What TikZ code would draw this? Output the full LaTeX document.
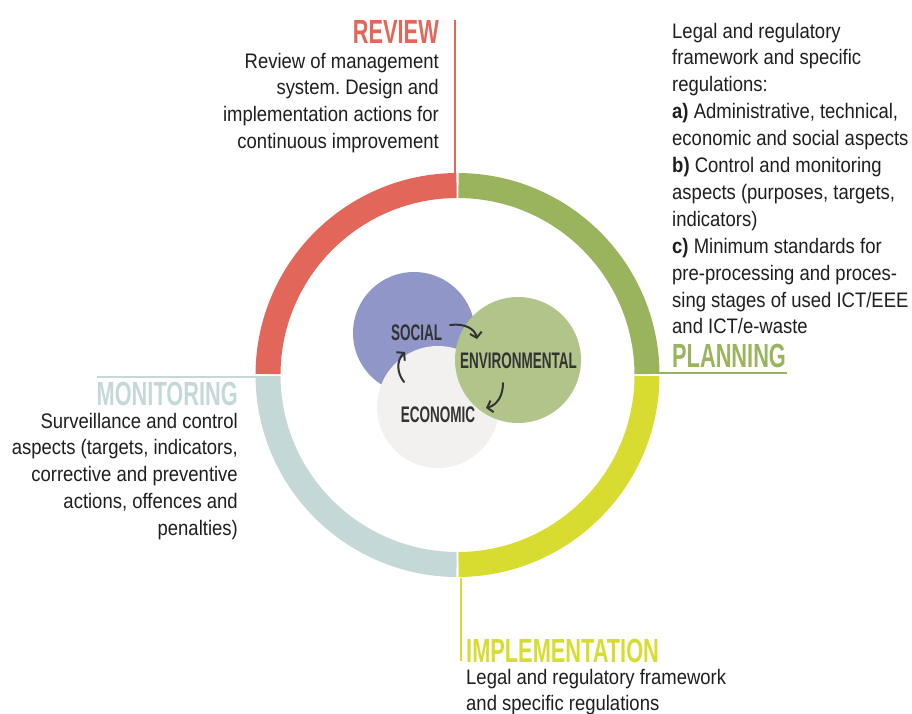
\documentclass[tikz,border=0pt]{standalone}
\usepackage{fontspec}
\setmainfont{Liberation Sans}[FakeStretch=0.88]
\newfontfamily\headfont{Liberation Sans}[FakeStretch=0.65]
\newfontfamily\circfont{Liberation Sans}[FakeStretch=0.60]
\usetikzlibrary{arrows.meta,calc}
\definecolor{revred}{HTML}{E2675A}
\definecolor{plangreen}{HTML}{9AB45E}
\definecolor{implyellow}{HTML}{D9DC30}
\definecolor{monigrey}{HTML}{C5D8D8}
\definecolor{socialc}{HTML}{9096C8}
\definecolor{envc}{HTML}{B1C48A}
\definecolor{econc}{HTML}{F2F1F0}
\definecolor{txt}{HTML}{1E1E1E}
\definecolor{dark}{HTML}{333333}
\frenchspacing
\begin{document}
\begin{tikzpicture}[x=1pt,y=-1pt,
  body/.style={inner sep=0pt, font=\fontsize{21}{26.9}\selectfont, text=txt},
  head/.style={inner sep=0pt, font=\headfont\bfseries\fontsize{33.5}{33.5}\selectfont},
  circlabel/.style={inner sep=0pt, font=\circfont\bfseries\fontsize{22.5}{22.5}\selectfont, text=dark},
  link/.style={line width=2pt},
  blob/.style={circle, inner sep=0pt, draw=none},
  cyc/.style={draw=dark, line width=2pt, line cap=round, -{Straight Barb[length=5pt,width=12pt]}}
]
\useasboundingbox (0,0) rectangle (912,713);
\def\myRo{202}
\def\myRi{177}
\coordinate (c) at (457.5,375);
% ring sectors
\fill[revred] ($(c)+(180.3:\myRo)$) arc[start angle=180.3, end angle=269.7, radius=\myRo] -- ($(c)+(269.7:\myRi)$) arc[start angle=269.7, end angle=180.3, radius=\myRi] -- cycle;
\fill[plangreen] ($(c)+(270.3:\myRo)$) arc[start angle=270.3, end angle=359.7, radius=\myRo] -- ($(c)+(359.7:\myRi)$) arc[start angle=359.7, end angle=270.3, radius=\myRi] -- cycle;
\fill[implyellow] ($(c)+(0.3:\myRo)$) arc[start angle=0.3, end angle=89.7, radius=\myRo] -- ($(c)+(89.7:\myRi)$) arc[start angle=89.7, end angle=0.3, radius=\myRi] -- cycle;
\fill[monigrey] ($(c)+(90.3:\myRo)$) arc[start angle=90.3, end angle=179.7, radius=\myRo] -- ($(c)+(179.7:\myRi)$) arc[start angle=179.7, end angle=90.3, radius=\myRi] -- cycle;
% leader lines
\coordinate (revTop) at (455,20);
\coordinate (revBot) at (455,173);
\coordinate (planA) at (640,373);
\coordinate (planB) at (787,373);
\coordinate (monA) at (97,377);
\coordinate (monB) at (268,377);
\coordinate (impA) at (460.5,578);
\coordinate (impB) at (460.5,661);
\draw[link, draw=revred] (revTop) -- (revBot);
\draw[link, draw=plangreen] (planA) -- (planB);
\draw[link, draw=monigrey] (monA) -- (monB);
\draw[link, draw=implyellow] (impA) -- (impB);
% headings
\node[head, text=revred, anchor=base east] (review) at (439,43) {REVIEW};
\node[head, text=plangreen, anchor=base west] (planning) at (672,367) {PLANNING};
\node[head, text=monigrey, anchor=base east] (monitoring) at (238,405) {MONITORING};
\node[head, text=implyellow, anchor=base west] (implementation) at (466,662) {IMPLEMENTATION};
% body texts
\node[body, anchor=base east] (revtxt) at (439,68) {\begin{tabular}[t]{@{}r@{}}Review of management\\ system. Design and\\ implementation actions for\\ continuous improvement\end{tabular}};
\node[body, anchor=base west] (plantxt) at (672,38) {\begin{tabular}[t]{@{}l@{}}Legal and regulatory\\ framework and specific\\ regulations:\\ \textbf{a)} Administrative, technical,\\ economic and social aspects\\ \textbf{b)} Control and monitoring\\ aspects (purposes, targets,\\ indicators)\\ \textbf{c)} Minimum standards for\\ pre-processing and proces-\\ sing stages of used ICT/EEE\\ and ICT/e-waste\end{tabular}};
\node[body, anchor=base east] (montxt) at (238,428) {\begin{tabular}[t]{@{}r@{}}Surveillance and control\\ aspects (targets, indicators,\\ corrective and preventive\\ actions, offences and\\ penalties)\end{tabular}};
\node[body, anchor=base west] (imptxt) at (466,684) {\begin{tabular}[t]{@{}l@{}}Legal and regulatory framework\\ and specific regulations\end{tabular}};
% circles
\node[blob, fill=socialc, minimum size=122pt] (soc) at (414,333) {};
\node[blob, fill=econc, minimum size=122pt] (eco) at (438,407) {};
\node[blob, fill=envc, minimum size=126pt] (env) at (518,360) {};
\node[circlabel] (socl) at (416.5,332.5) {SOCIAL};
\node[circlabel] (envl) at (518.5,361) {ENVIRONMENTAL};
\node[circlabel] (ecol) at (438,415) {ECONOMIC};
% cycle arrows
\coordinate (a1s) at (450,325);
\coordinate (a1e) at (477,339);
\coordinate (a2s) at (503,383);
\coordinate (a2e) at (486,408);
\coordinate (a3s) at (404,382);
\coordinate (a3e) at (405,352);
\draw[cyc] (a1s) .. controls (465,323) and (475,329) .. (a1e);
\draw[cyc] (a2s) .. controls (503,396) and (497,405) .. (a2e);
\draw[cyc] (a3s) .. controls (397,373) and (396,361) .. (a3e);
\end{tikzpicture}
\end{document}
